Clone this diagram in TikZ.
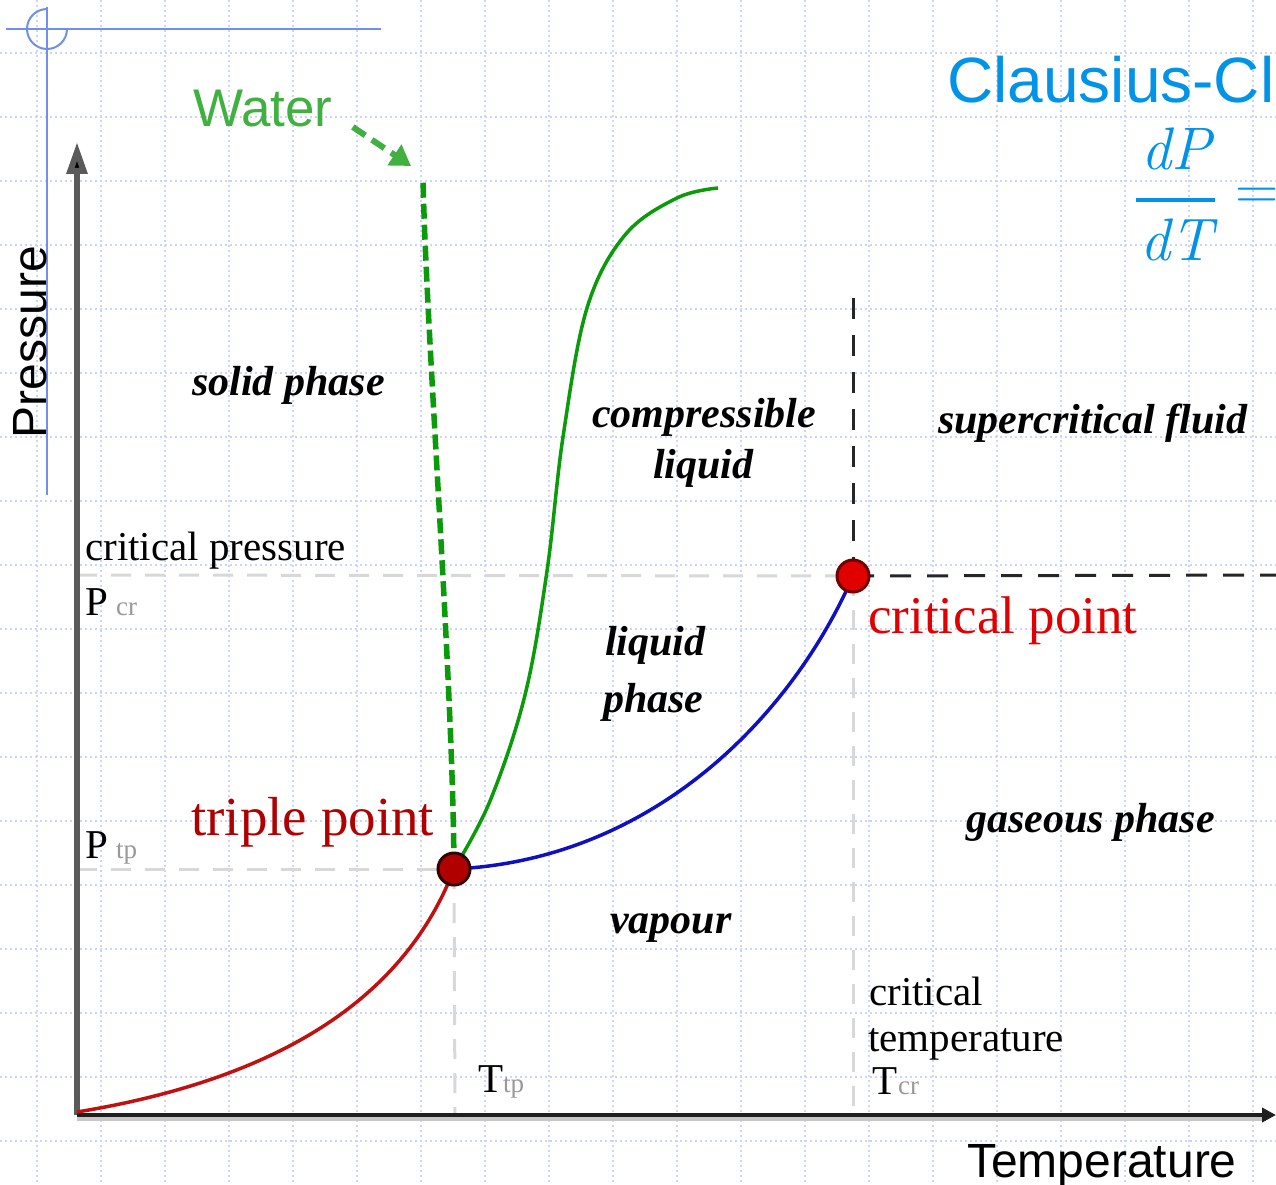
\documentclass[tikz,border=0pt]{standalone}
\usepackage{fontspec}
\setmainfont{Liberation Serif}
\setsansfont{Liberation Sans}
\newfontfamily\lmfont{Latin Modern Roman}
\usetikzlibrary{arrows.meta,calc}
\definecolor{gridc}{HTML}{C9D5FA}
\definecolor{crossc}{HTML}{7090F0}
\definecolor{waterc}{HTML}{40B040}
\definecolor{curvegreen}{HTML}{0A9A0A}
\definecolor{curveblue}{HTML}{1010C0}
\definecolor{curvered}{HTML}{C01010}
\definecolor{tplab}{HTML}{B00000}
\definecolor{cplab}{HTML}{E00000}
\definecolor{clblue}{HTML}{0093E8}
\definecolor{subgray}{HTML}{999999}
\definecolor{guidegray}{HTML}{D8D8D8}
\definecolor{axisgray}{HTML}{5A5A5A}
\begin{document}
\begin{tikzpicture}[x=1pt,y=-1pt,
  gridline/.style={gridc, line width=1.6pt, dash pattern=on 2pt off 3pt},
  crossline/.style={crossc, line width=2pt},
  guide/.style={guidegray, line width=3pt, dash pattern=on 20pt off 14pt},
  blackdash/.style={black!85, line width=3pt, dash pattern=on 21pt off 16pt},
  lab/.style={inner sep=0pt, anchor=base west, font=\fontsize{41}{44}\selectfont},
  ital/.style={inner sep=0pt, anchor=base west, font=\fontsize{42}{46}\selectfont\bfseries\itshape},
  subl/.style={inner sep=0pt, anchor=base west, text=subgray, font=\fontsize{27}{30}\selectfont},
  sanslab/.style={inner sep=0pt, font=\sffamily\fontsize{48}{52}\selectfont},
  ptdot/.style={circle, minimum size=32pt, inner sep=0pt, line width=3pt},
]
\useasboundingbox (0,0) rectangle (1276,1185);
\clip (0,0) rectangle (1276,1185);
\fill[white] (0,0) rectangle (1276,1185);

% grid
\foreach \x in {37,101,...,1253} \draw[gridline] (\x,0) -- (\x,1185);
\foreach \y in {53,117,...,1141} \draw[gridline] (0,\y) -- (1276,\y);

% crosshair
\coordinate (chL) at (6,29);
\coordinate (chR) at (381,29);
\coordinate (chT) at (47,7);
\coordinate (chB) at (47,495);
\draw[crossline] (chL) -- (chR);
\draw[crossline] (chT) -- (chB);
\draw[crossline] (47,9) arc[start angle=90, end angle=360, radius=20pt];

% key points
\coordinate (O) at (77,1115);
\coordinate (ytop) at (77,142);
\coordinate (xend) at (1276,1115);
\coordinate (tp) at (454,869);
\coordinate (cp) at (853,576);
\coordinate (pcr) at (77,575);
\coordinate (ptp) at (77,869);
\coordinate (tcr) at (853,1115);
\coordinate (ttp) at (455,1115);
\coordinate (cpN) at (853,298);
\coordinate (cpE) at (1276,575);
\coordinate (redstart) at (77,1112);
\coordinate (wtop) at (423,178);

% guides
\draw[guide] (pcr) -- (cp);
\draw[guide] (ptp) -- (tp);
\draw[guide] (cp) -- (tcr);
\draw[guide] (tp) -- (ttp);
\draw[blackdash] (cp) -- (cpE);
\draw[blackdash] (cpN) -- (cp);

% axes
\draw[line width=6pt, axisgray, -{Triangle[length=32pt,width=20pt,fill=black]}] (O) -- (ytop);
\draw[line width=4pt, black!22] ($(O)+(0,4)$) -- ($(xend)+(-10,4)$);
\draw[line width=4pt, black!88, -{Triangle[length=14pt,width=14pt]}] (O) -- (xend);

% curves
\draw[curvered, line width=3.5pt] (redstart) .. controls (260,1082) and (400,1010) .. (tp);
\draw[curveblue, line width=3.5pt] (tp) .. controls (650,860) and (790,720) .. (cp);
\draw[curvegreen, line width=3.5pt] plot[smooth, tension=0.6] coordinates
  {(454,869) (490,801) (525,695) (547,571) (563,437) (587,308) (625,235) (677,198) (718,188)};
\draw[curvegreen, line width=5.5pt, dash pattern=on 15pt off 6pt] (tp) .. controls (453,680) and (426,330) .. (wtop);

% points
\node[ptdot, fill=tplab, draw=black!80!red] (tpd) at (tp) {};
\node[ptdot, fill=cplab, draw=red!45!black] (cpd) at (cp) {};

% water
\node[inner sep=0pt, anchor=base west, text=waterc, font=\sffamily\fontsize{53}{58}\selectfont] (water) at (193,127) {Water};
\coordinate (wtip) at (411,166);
\draw[waterc, line width=6pt, dash pattern=on 15pt off 8pt, -{Triangle[length=20pt,width=24pt]}] ($(water.base east)+(20,0)$) -- (wtip);

% axis labels
\node[sanslab, rotate=90] (pres) at (30,342) {Pressure};
\node[sanslab, anchor=base west] (temp) at (967,1177) {Temperature};

% region labels
\node[ital] (solid) at (192,395) {solid phase};
\node[ital] (comp1) at (592,427) {compressible};
\node[ital] (comp2) at (653,478) {liquid};
\node[ital] (super) at (938,433) {supercritical fluid};
\node[ital] (liq1) at (605,655) {liquid};
\node[ital] (liq2) at (603,712) {phase};
\node[ital] (gas) at (966,832) {gaseous phase};
\node[ital] (vap) at (610,933) {vapour};

% value labels
\node[lab] (cpres) at (85,560) {critical pressure};
\node[lab] (Pcr) at (85,615) {P};
\node[subl] (Pcrs) at (116,615) {cr};
\node[lab] (Ptp) at (85,858) {P};
\node[subl] (Ptps) at (116,858) {tp};
\node[lab] (ct1) at (869,1005) {critical};
\node[lab] (ct2) at (868,1051) {temperature};
\node[lab] (Tcr) at (872,1094) {T};
\node[subl] (Tcrs) at (898,1094) {cr};
\node[lab] (Ttp) at (478,1092) {T};
\node[subl] (Ttps) at (503,1092) {tp};
\node[inner sep=0pt, anchor=base west, text=tplab, font=\fontsize{55}{60}\selectfont] (tplabel) at (191,835) {triple point};
\node[inner sep=0pt, anchor=base west, text=cplab, font=\fontsize{53}{58}\selectfont] (cplabel) at (868,633) {critical point};

% Clausius
\node[inner sep=0pt, anchor=base west, text=clblue, font=\sffamily\fontsize{64}{70}\selectfont] (claus) at (947,103) {Clausius-Cl};
\node[inner sep=0pt, anchor=base, text=clblue, font=\lmfont\itshape\fontsize{60}{66}\selectfont] (dP) at (1176,170) {dP};
\node[inner sep=0pt, anchor=base, text=clblue, font=\lmfont\itshape\fontsize{60}{66}\selectfont] (dT) at (1176,260) {dT};
\draw[clblue, line width=4.5pt] (1136,200) -- (1215,200);
\node[inner sep=0pt, anchor=west, text=clblue, font=\lmfont\fontsize{60}{66}\selectfont] (eq) at (1235,199) {=};
\end{tikzpicture}
\end{document}
